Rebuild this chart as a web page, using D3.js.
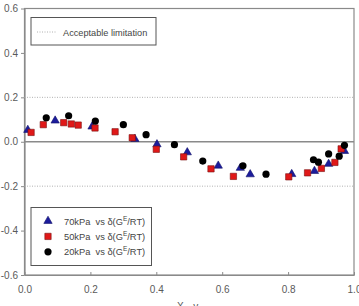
<!DOCTYPE html>
<html>
<head>
<meta charset="utf-8">
<script src="https://cdn.jsdelivr.net/npm/d3@7"></script>
<style>
  body { margin: 0; background: #fff; }
  text { font-family: "Liberation Sans", Arial, sans-serif; }
</style>
</head>
<body>
<script>
// data: [x1, delta(GE/RT)]
const kpa70 = [[0.010, 0.053], [0.093, 0.095], [0.205, 0.068], [0.335, 0.012], [0.402, -0.012],
  [0.494, -0.048], [0.588, -0.108], [0.655, -0.118], [0.685, -0.147], [0.811, -0.146],
  [0.880, -0.132], [0.923, -0.100], [0.971, -0.042]]
const kpa50 = [[0.020, 0.042], [0.057, 0.077], [0.119, 0.086], [0.142, 0.080], [0.163, 0.075],
  [0.214, 0.062], [0.275, 0.045], [0.327, 0.018], [0.400, -0.034], [0.483, -0.068],
  [0.566, -0.122], [0.634, -0.156], [0.802, -0.158], [0.859, -0.140], [0.901, -0.120],
  [0.942, -0.093], [0.961, -0.032]]
const kpa20 = [[0.066, 0.108], [0.134, 0.117], [0.215, 0.093], [0.300, 0.077], [0.369, 0.032],
  [0.455, -0.013], [0.541, -0.087], [0.663, -0.108], [0.733, -0.146], [0.877, -0.081],
  [0.892, -0.092], [0.923, -0.055], [0.955, -0.065], [0.971, -0.016]]
const limits = [0.2, -0.2]
const xTicks = [0, 0.2, 0.4, 0.6, 0.8, 1.0]
const yTicks = [-0.6, -0.4, -0.2, 0, 0.2, 0.4, 0.6]
const seriesNames = ['70kPa', '50kPa', '20kPa']

const width = 359
const height = 306

const svg = d3.select('body')
  .append('svg')
  .attr('width', width)
  .attr('height', height)

const x = d3.scaleLinear().domain([0, 1]).range([24.5, 354])
const y = d3.scaleLinear().domain([-0.6, 0.6]).range([275, 8.5])

// frame
svg.append('rect')
  .attr('x', x(0)).attr('y', y(0.6))
  .attr('width', x(1) - x(0)).attr('height', y(-0.6) - y(0.6))
  .attr('fill', 'none').attr('stroke', '#8a8a8a').attr('stroke-width', 1.2)

// axes: y ticks outwards, x ticks inwards
const fmt = d => d.toFixed(1)
const yAxis = svg.append('g')
  .attr('transform', `translate(${x(0)},0)`)
  .call(d3.axisLeft(y).tickValues(yTicks).tickFormat(fmt).tickSizeInner(3.5).tickSizeOuter(0).tickPadding(3))
const xAxis = svg.append('g')
  .attr('transform', `translate(0,${y(-0.6)})`)
  .call(d3.axisBottom(x).tickValues(xTicks).tickFormat(fmt).tickSizeInner(-3).tickSizeOuter(0).tickPadding(11))
;[xAxis, yAxis].forEach(a => {
  a.select('.domain').attr('stroke', '#8a8a8a').attr('stroke-width', 1.2)
  a.selectAll('line').attr('stroke', '#8a8a8a')
  a.selectAll('text').attr('fill', '#5a5a5a').attr('font-size', 10)
    .attr('font-family', '"Liberation Sans", Arial, sans-serif')
})

// zero line
svg.append('line')
  .attr('x1', x(0)).attr('x2', x(1))
  .attr('y1', y(0)).attr('y2', y(0))
  .attr('stroke', '#8a8a8a').attr('stroke-width', 1.5)

// acceptable limitation lines
svg.selectAll('.limit')
  .data(limits)
  .enter()
  .append('line')
  .attr('class', 'limit')
  .attr('x1', x(0)).attr('x2', x(1))
  .attr('y1', d => y(d)).attr('y2', d => y(d))
  .attr('stroke', '#b0b0b0').attr('stroke-width', 1)
  .attr('stroke-dasharray', '1,1.5')

// x axis title (cut by the bottom edge, as in the original)
const xt = svg.append('text')
  .attr('x', 177).attr('y', 310)
  .attr('font-size', 10).attr('fill', '#555')
xt.append('tspan').text('X')
xt.append('tspan').text('1').attr('font-size', 7).attr('dy', 2)
xt.append('tspan').text(',  y').attr('dy', -2)
xt.append('tspan').text('1').attr('font-size', 7).attr('dy', 2)

// markers
const tri = d3.symbol().type(d3.symbolTriangle).size(30)
const sq = d3.symbol().type(d3.symbolSquare).size(40)

function drawTri(g) {
  g.attr('d', tri).attr('fill', '#1c1c9c').attr('stroke', '#10106a').attr('stroke-width', 0.6)
}
function drawSq(g) {
  g.attr('d', sq).attr('fill', '#e01818').attr('stroke', '#7a1010').attr('stroke-width', 0.6)
}
function drawCirc(g) {
  g.attr('r', 3.6).attr('fill', '#000')
}

svg.append('g').selectAll('path')
  .data(kpa70)
  .enter()
  .append('path')
  .attr('transform', d => `translate(${x(d[0])},${y(d[1])})`)
  .call(drawTri)

svg.append('g').selectAll('path')
  .data(kpa50)
  .enter()
  .append('path')
  .attr('transform', d => `translate(${x(d[0])},${y(d[1])})`)
  .call(drawSq)

svg.append('g').selectAll('circle')
  .data(kpa20)
  .enter()
  .append('circle')
  .attr('cx', d => x(d[0]))
  .attr('cy', d => y(d[1]))
  .call(drawCirc)

// legend: acceptable limitation
svg.append('rect')
  .attr('x', 31).attr('y', 17.5).attr('width', 125).attr('height', 27.5)
  .attr('fill', '#fff').attr('stroke', '#555').attr('stroke-width', 1)
svg.append('line')
  .attr('x1', 37).attr('x2', 57).attr('y1', 32).attr('y2', 32)
  .attr('stroke', '#b0b0b0').attr('stroke-dasharray', '1,1.5')
svg.append('text')
  .attr('x', 63).attr('y', 35.5)
  .attr('font-size', 9.2).attr('fill', '#444')
  .text('Acceptable limitation')

// legend: series
svg.append('rect')
  .attr('x', 31).attr('y', 207.5).attr('width', 120.5).attr('height', 58)
  .attr('fill', '#fff').attr('stroke', '#555').attr('stroke-width', 1)

const legend = svg.append('g')
  .selectAll('g')
  .data(seriesNames)
  .enter()
  .append('g')
  .attr('transform', (d, i) => `translate(48,${221 + i * 15.4})`)

legend.each(function (d, i) {
  const g = d3.select(this)
  if (i === 0) g.append('path').call(drawTri)
  if (i === 1) g.append('path').call(drawSq)
  if (i === 2) g.append('circle').call(drawCirc)
  const t = g.append('text')
    .attr('x', 16).attr('y', 3.5)
    .attr('font-size', 9.3).attr('fill', '#444')
    .style('white-space', 'pre')
  t.append('tspan').text(d + '  vs δ(G')
  t.append('tspan').text('E').attr('font-size', 6.5).attr('dy', -4)
  t.append('tspan').text('/RT)').attr('dy', 4)
})
</script>
</body>
</html>
